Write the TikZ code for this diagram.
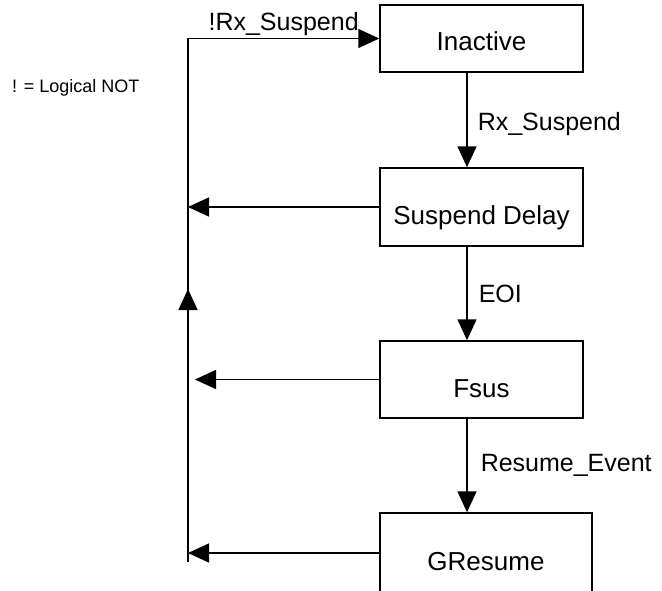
\documentclass[tikz,border=0pt]{standalone}
\usepackage{fontspec}
\setmainfont{Liberation Sans}
\usetikzlibrary{arrows.meta,positioning}

\begin{document}
\begin{tikzpicture}[x=1pt,y=-1pt,
  state/.style={draw,line width=1.5pt,minimum width=203pt,inner sep=0pt,
    text height=35pt,text depth=0pt,font=\fontsize{26}{30}\selectfont},
  flow/.style={line width=1.5pt,-{Triangle[length=21pt,width=19pt]}},
  cond/.style={font=\fontsize{25}{28}\selectfont,inner sep=0pt}]
\path[use as bounding box,clip] (0,0) rectangle (662,590);
% States
\node[state,minimum height=67pt,text height=24pt] (inactive) at (481.5,38.5) {Inactive};
\node[state,minimum height=78pt] (susp) at (481.5,207) {Suspend Delay};
\node[state,minimum height=77pt] (fsus) at (481.5,379.5) {Fsus};
\node[state,minimum width=212pt,minimum height=80pt] (gres) at (486,553) {GResume};
% Forward path
\coordinate (down) at (467,0);
\draw[flow] (inactive.south -| down) -- node[cond,right=10pt,yshift=-4pt] {Rx\_Suspend} (susp.north -| down);
\draw[flow] (susp.south -| down) -- node[cond,right=11pt] {EOI} (fsus.north -| down);
\draw[flow] (fsus.south -| down) -- node[cond,right=13pt] {Resume\_Event} (gres.north -| down);
% Return loop
\coordinate (loopbot) at (188,562);
\coordinate (loopmid) at (188,289);
\coordinate (looptop) at (188,38.5);
\coordinate (fsusend) at (195,0);
\draw[flow] (loopbot) -- (looptop) -- node[cond,above=2pt] {!Rx\_Suspend} (inactive.west);
\draw[flow] (loopbot) -- (loopmid);
\draw[flow] (susp.west) -- (susp.west -| loopbot);
\draw[flow] (fsus.west) -- (fsus.west -| fsusend);
\draw[flow] (gres.west) -- (gres.west -| loopbot);
% Note
\node[anchor=west,font=\fontsize{18}{20}\selectfont,inner sep=0pt] (note) at (12,88) {! = Logical NOT};
\end{tikzpicture}
\end{document}
